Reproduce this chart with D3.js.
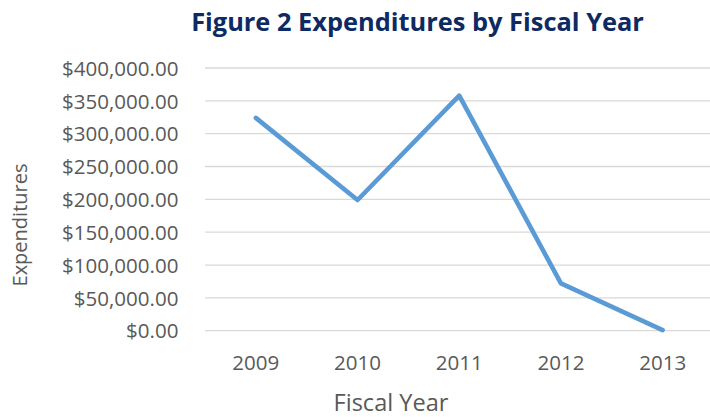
<!DOCTYPE html>
<html>
<head>
<meta charset="utf-8">
<script src="https://cdn.jsdelivr.net/npm/d3@7"></script>
<style>
  html, body { margin: 0; padding: 0; background: #fff; }
  svg { display: block; }
</style>
</head>
<body>
<svg id="chart" width="710" height="417"></svg>
<script>
// ---- data ----
const years = ["2009", "2010", "2011", "2012", "2013"];
const expenditures = [324000, 199000, 358000, 72000, 1000];
const yTicks = [0, 50000, 100000, 150000, 200000, 250000, 300000, 350000, 400000];
const titleText = "Figure 2 Expenditures by Fiscal Year";
const xTitle = "Fiscal Year";
const yTitle = "Expenditures";

// ---- layout ----
const W = 710, H = 417;
const plot = { left: 205, right: 713.5, top: 68, bottom: 330.7 };
const FONT = "'Open Sans', 'Noto Sans', sans-serif";
const textColor = "#595959";

const svg = d3.select("#chart");

const x = d3.scaleBand().domain(years).range([plot.left, plot.right]);
const y = d3.scaleLinear().domain([0, 400000]).range([plot.bottom, plot.top]);

// fit text to a target width
function fit(sel, targetWidth, base) {
  sel.attr("font-size", base);
  const w = sel.node().getComputedTextLength();
  sel.attr("font-size", base * targetWidth / w);
  return sel;
}

// gridlines
svg.append("g")
  .selectAll("line")
  .data(yTicks)
  .join("line")
  .attr("x1", plot.left)
  .attr("x2", W)
  .attr("y1", d => y(d))
  .attr("y2", d => y(d))
  .attr("stroke", "#D9D9D9")
  .attr("stroke-width", 1.3);

// y axis labels
const fmt = d3.format(",.2f");
const yAxis = d3.axisLeft(y).tickValues(yTicks).tickFormat(d => "$" + fmt(d)).tickSize(0).tickPadding(0);
const yG = svg.append("g").attr("transform", `translate(178.5,0)`).call(yAxis);
yG.select(".domain").remove();
yG.selectAll("text")
  .attr("font-family", FONT)
  .attr("fill", textColor)
  .attr("dy", "0.35em");
{
  const widest = yG.selectAll("text").filter(d => d === 400000);
  fit(widest, 116.5, 20);
  const fs = widest.attr("font-size");
  yG.selectAll("text").attr("font-size", fs);
  yG.attr("font-size", null);
}

// x axis labels
const xAxis = d3.axisBottom(x).tickSize(0).tickPadding(0);
const xG = svg.append("g").attr("transform", `translate(0,${plot.bottom})`).call(xAxis);
xG.select(".domain").remove();
xG.selectAll("text")
  .attr("font-family", FONT)
  .attr("fill", textColor)
  .attr("font-size", yG.select("text").attr("font-size"))
  .attr("y", 39.5)
  .attr("dy", 0);

// line
const line = d3.line()
  .x((d, i) => x(years[i]) + x.bandwidth() / 2)
  .y(d => y(d));
svg.append("path")
  .datum(expenditures)
  .attr("d", line)
  .attr("fill", "none")
  .attr("stroke", "#5B9BD5")
  .attr("stroke-width", 4.6)
  .attr("stroke-linecap", "round")
  .attr("stroke-linejoin", "round");

// title
const t = svg.append("text")
  .text(titleText)
  .attr("x", 417.5)
  .attr("y", 31)
  .attr("text-anchor", "middle")
  .attr("font-family", FONT)
  .attr("font-weight", "bold")
  .attr("fill", "#0E2A62");
fit(t, 453, 24);

// x axis title
const xt = svg.append("text")
  .text(xTitle)
  .attr("x", 391)
  .attr("y", 411)
  .attr("text-anchor", "middle")
  .attr("font-family", FONT)
  .attr("fill", textColor);
fit(xt, 115, 20);

// y axis title
const yt = svg.append("text")
  .text(yTitle)
  .attr("transform", "translate(27,225) rotate(-90)")
  .attr("text-anchor", "middle")
  .attr("font-family", FONT)
  .attr("fill", textColor);
fit(yt, 123, 20);
</script>
</body>
</html>
